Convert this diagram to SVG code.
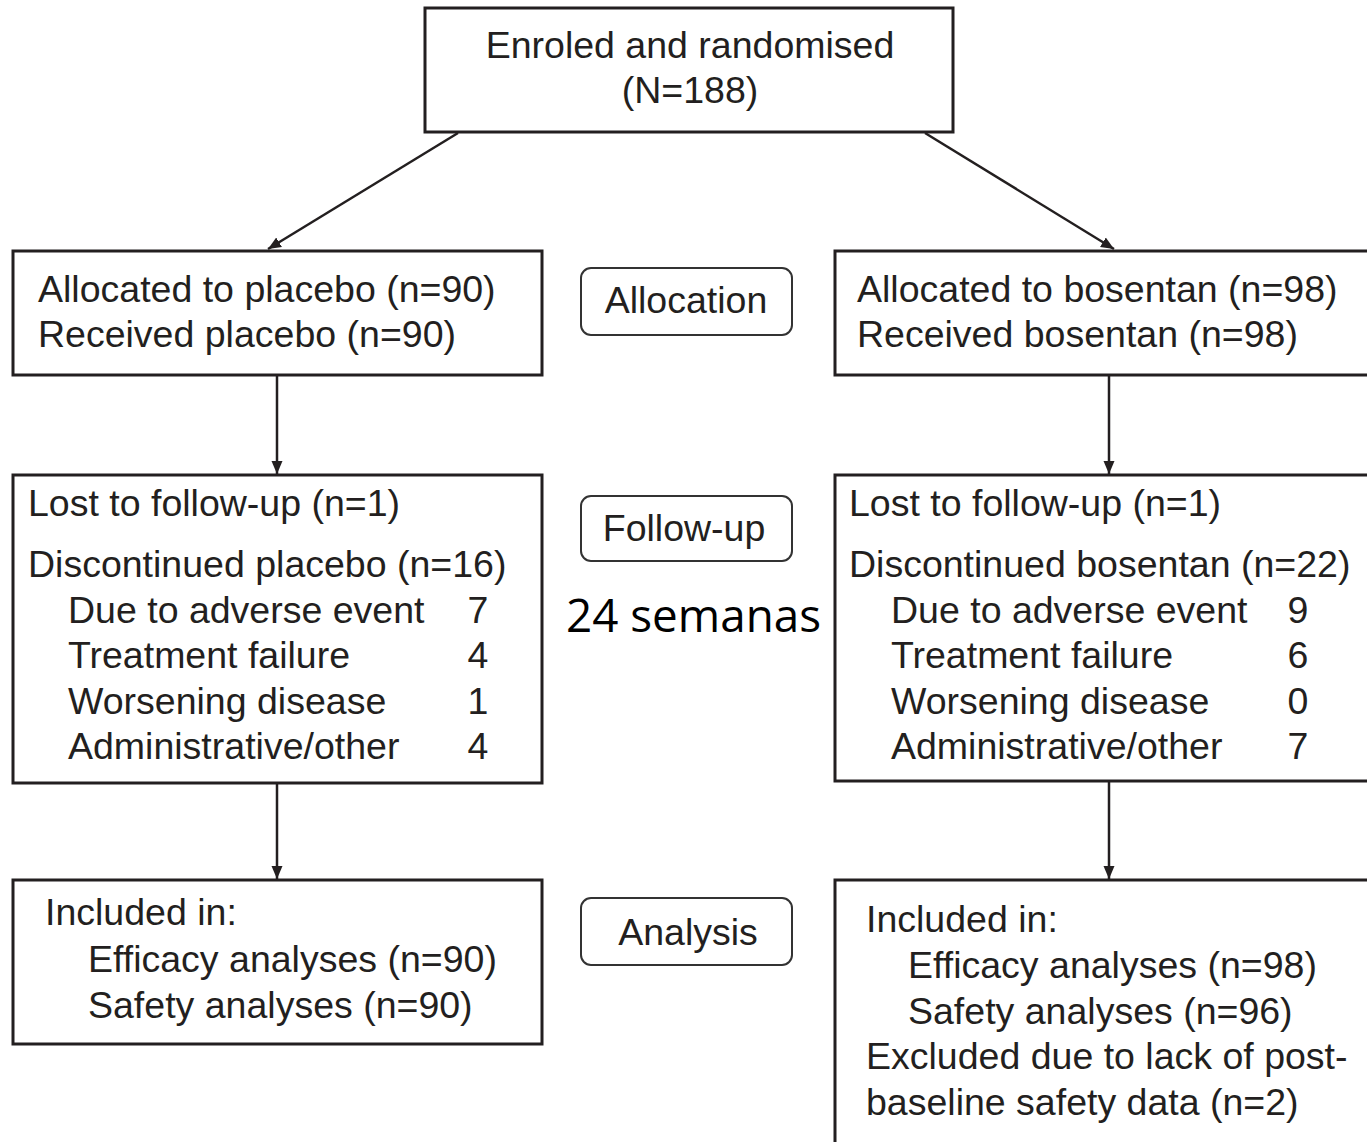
<svg xmlns="http://www.w3.org/2000/svg" width="1367" height="1142" viewBox="0 0 1367 1142">
<style>
.box{fill:#fff;stroke:#231f20;stroke-width:3}
.pill{fill:#fff;stroke:#333;stroke-width:2}
.t{font-family:"Liberation Sans",Arial,sans-serif;font-size:37.5px;fill:#231f20}
.c{text-anchor:middle}
.line{stroke:#231f20;stroke-width:2.5;fill:none}
.sem{font-family:"Open Sans",sans-serif;font-size:45.8px;fill:#000}
</style>
<defs>
<marker id="ah" markerUnits="userSpaceOnUse" markerWidth="14" markerHeight="14" viewBox="0 0 14 14" refX="13" refY="7" orient="auto">
<path d="M0,1.5 L13,7 L0,12.5 Z" fill="#231f20"/>
</marker>
</defs>
<rect width="1367" height="1142" fill="#fff"/>
<g id="connectors">
<line class="line" x1="458" y1="133" x2="268" y2="249" marker-end="url(#ah)"/>
<line class="line" x1="925" y1="133" x2="1114" y2="249" marker-end="url(#ah)"/>
<line class="line" x1="277" y1="376" x2="277" y2="474" marker-end="url(#ah)"/>
<line class="line" x1="1109" y1="376" x2="1109" y2="474" marker-end="url(#ah)"/>
<line class="line" x1="277" y1="784" x2="277" y2="879" marker-end="url(#ah)"/>
<line class="line" x1="1109" y1="782" x2="1109" y2="879" marker-end="url(#ah)"/>
</g>
<g id="enroled">
<rect class="box" x="425" y="8" width="528" height="124"/>
<text class="t c" x="690" y="58">Enroled and randomised</text>
<text class="t c" x="690" y="103">(N=188)</text>
</g>
<g id="alloc-placebo">
<rect class="box" x="13" y="251" width="529" height="124"/>
<text class="t" x="38" y="302">Allocated to placebo (n=90)</text>
<text class="t" x="38" y="347">Received placebo (n=90)</text>
</g>
<g id="alloc-bosentan">
<rect class="box" x="835" y="251" width="545" height="124"/>
<text class="t" x="857" y="302">Allocated to bosentan (n=98)</text>
<text class="t" x="857" y="347">Received bosentan (n=98)</text>
</g>
<g id="allocation">
<rect class="pill" x="581" y="268" width="211" height="67" rx="10"/>
<text class="t c" x="686" y="313">Allocation</text>
</g>
<g id="followup-placebo">
<rect class="box" x="13" y="475" width="529" height="308"/>
<text class="t" x="28" y="516">Lost to follow-up (n=1)</text>
<text class="t" x="28" y="577">Discontinued placebo (n=16)</text>
<text class="t" x="68" y="623">Due to adverse event</text>
<text class="t" x="68" y="668">Treatment failure</text>
<text class="t" x="68" y="714">Worsening disease</text>
<text class="t" x="68" y="759">Administrative/other</text>
<text class="t c" x="478" y="623">7</text>
<text class="t c" x="478" y="668">4</text>
<text class="t c" x="478" y="714">1</text>
<text class="t c" x="478" y="759">4</text>
</g>
<g id="followup-bosentan">
<rect class="box" x="835" y="475" width="545" height="306"/>
<text class="t" x="849" y="516">Lost to follow-up (n=1)</text>
<text class="t" x="849" y="577">Discontinued bosentan (n=22)</text>
<text class="t" x="891" y="623">Due to adverse event</text>
<text class="t" x="891" y="668">Treatment failure</text>
<text class="t" x="891" y="714">Worsening disease</text>
<text class="t" x="891" y="759">Administrative/other</text>
<text class="t c" x="1298" y="623">9</text>
<text class="t c" x="1298" y="668">6</text>
<text class="t c" x="1298" y="714">0</text>
<text class="t c" x="1298" y="759">7</text>
</g>
<g id="followup">
<rect class="pill" x="581" y="496" width="211" height="65" rx="10"/>
<text class="t c" x="684" y="541">Follow-up</text>
</g>
<g id="semanas">
<text class="sem" x="566" y="632">24 semanas</text>
</g>
<g id="analysis-placebo">
<rect class="box" x="13" y="880" width="529" height="164"/>
<text class="t" x="45" y="925">Included in:</text>
<text class="t" x="88" y="972">Efficacy analyses (n=90)</text>
<text class="t" x="88" y="1018">Safety analyses (n=90)</text>
</g>
<g id="analysis-bosentan">
<rect class="box" x="835" y="880" width="545" height="280"/>
<text class="t" x="866" y="932">Included in:</text>
<text class="t" x="908" y="978">Efficacy analyses (n=98)</text>
<text class="t" x="908" y="1024">Safety analyses (n=96)</text>
<text class="t" x="866" y="1069">Excluded due to lack of post-</text>
<text class="t" x="866" y="1115">baseline safety data (n=2)</text>
</g>
<g id="analysis">
<rect class="pill" x="581" y="898" width="211" height="67" rx="10"/>
<text class="t c" x="688" y="945">Analysis</text>
</g>
</svg>
